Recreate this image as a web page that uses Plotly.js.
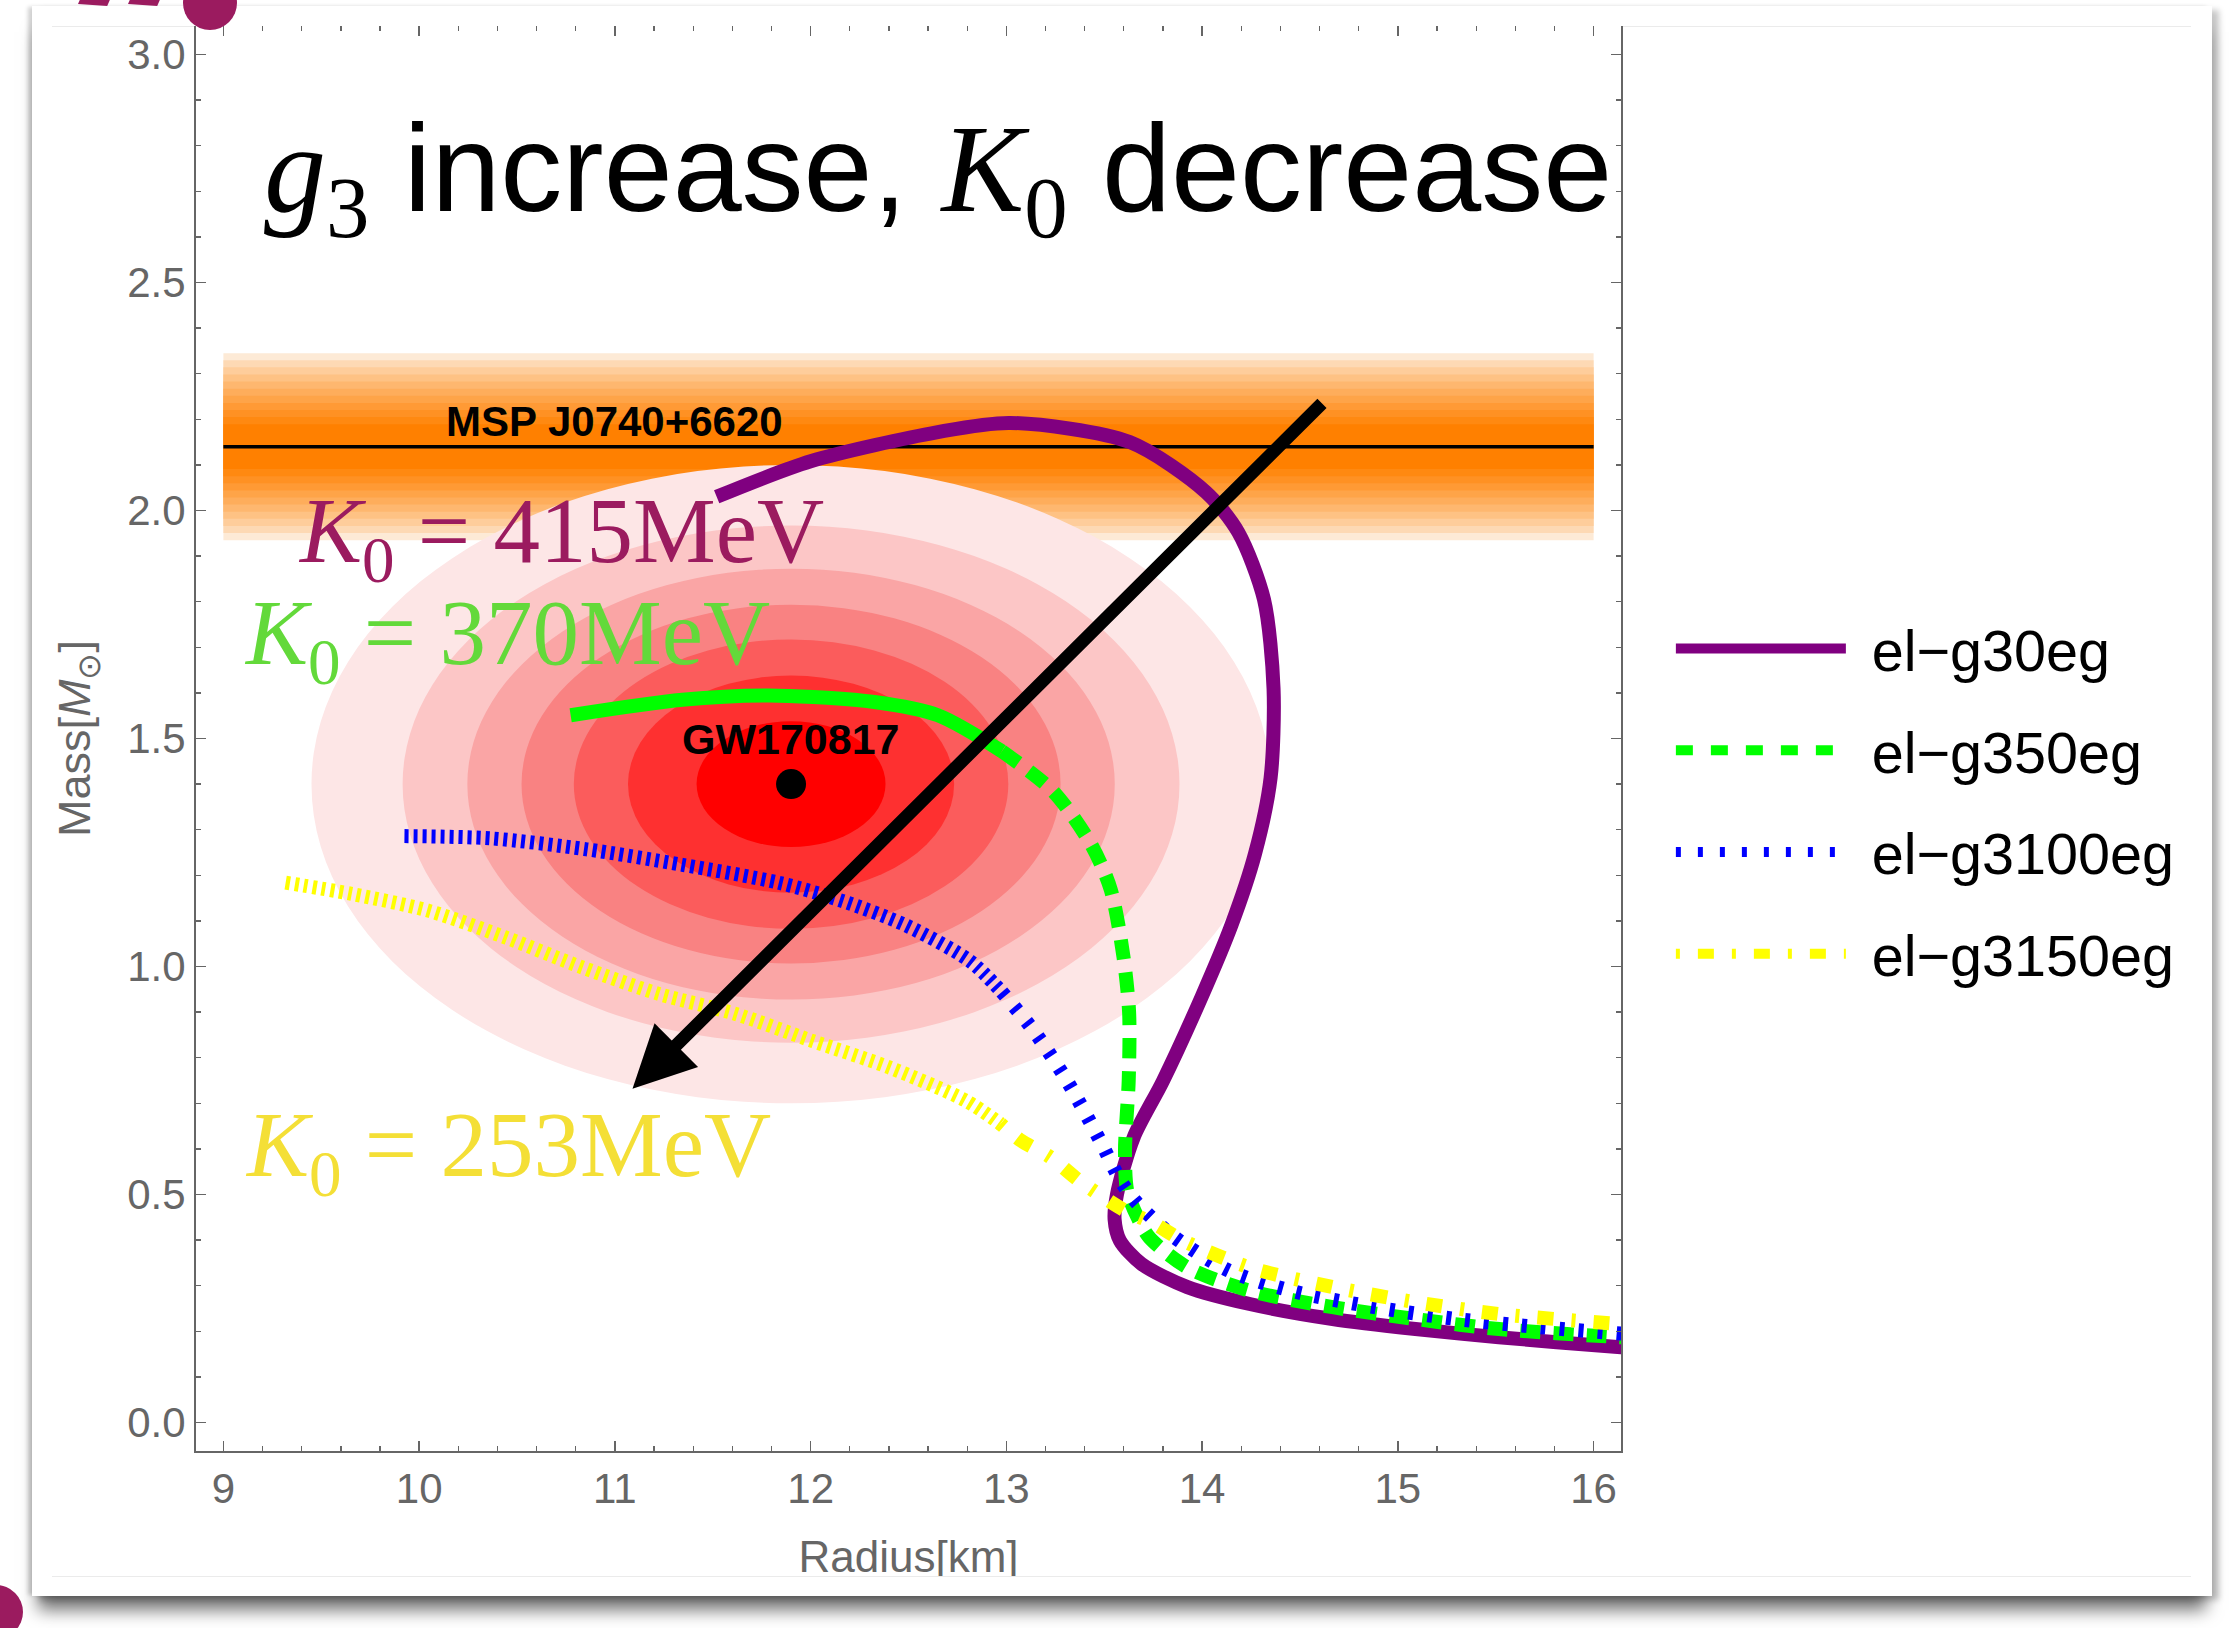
<!DOCTYPE html>
<html>
<head>
<meta charset="utf-8">
<script src="https://cdn.plot.ly/plotly-3.0.1.min.js"></script>
<style>
  html, body { margin: 0; padding: 0; background: #ffffff; width: 2229px; height: 1628px; overflow: hidden; }
  #card { position: absolute; left: 32px; top: 6px; width: 2180px; height: 1590px; background: #ffffff;
          box-shadow: 0 20px 16px -6px rgba(0,0,0,0.55), -5px 0 4px -1px rgba(0,0,0,0.18), 7px 4px 6px rgba(0,0,0,0.22); }
  #fig { position: absolute; left: 52px; top: 26px; width: 2139px; height: 1550px; overflow: hidden; }
  #plot { position: absolute; left: -52px; top: -26px; width: 2229px; height: 1628px; }
  .rule { position: absolute; left: 52px; width: 2139px; height: 1px; background: #ebebeb; }
  .deco { position: absolute; background: #9b1b5f; }
</style>
</head>
<body>
<div id="card"></div>
<div class="rule" style="top:26px"></div>
<div class="rule" style="top:1576px"></div>
<div id="fig"><div id="plot"></div></div>
<div class="deco" style="left:183px; top:-24px; width:54px; height:54px; border-radius:50%;"></div>
<div class="deco" style="left:-31px; top:1585px; width:54px; height:54px; border-radius:50%;"></div>
<div class="deco" style="left:80px; top:-6px; width:30px; height:11px; transform:skewX(-20deg) rotate(4deg);"></div>
<div class="deco" style="left:130px; top:-6px; width:30px; height:11px; transform:skewX(-20deg) rotate(4deg);"></div>
<script>
// ---- Mass-radius relations (radius in km, mass in solar masses) ----
const radiusG30  = [11.52, 12.00, 12.65, 13.02, 13.63, 14.02, 14.185, 14.316, 14.365, 14.35, 14.27, 14.15, 14.00, 13.80, 13.65, 13.565, 13.553, 13.58, 13.69, 13.925, 14.243, 14.667, 15.09, 15.516, 16.14, 16.3];
const massG30    = [2.030, 2.108, 2.172, 2.192, 2.150, 2.040, 1.952, 1.805, 1.609, 1.414, 1.247, 1.091, 0.936, 0.749, 0.625, 0.500, 0.445, 0.399, 0.348, 0.297, 0.260, 0.227, 0.205, 0.187, 0.165, 0.161];

const radiusG350 = [10.774, 11.345, 11.835, 12.325, 12.65, 12.977, 13.239, 13.434, 13.533, 13.598, 13.627, 13.625, 13.606, 13.617, 13.67, 13.73, 13.925, 14.243, 14.667, 15.09, 15.516, 16.14, 16.3];
const massG350   = [1.551, 1.585, 1.594, 1.580, 1.551, 1.472, 1.384, 1.267, 1.169, 1.022, 0.900, 0.750, 0.596, 0.509, 0.450, 0.406, 0.340, 0.289, 0.253, 0.227, 0.205, 0.187, 0.183];

const radiusG3100 = [9.925, 10.366, 10.856, 11.345, 11.835, 12.16, 12.488, 12.814, 12.977, 13.14, 13.309, 13.479, 13.584, 13.67, 13.86, 14.137, 14.454, 14.88, 15.30, 15.73, 16.14, 16.3];
const massG3100   = [1.286, 1.281, 1.257, 1.223, 1.184, 1.144, 1.090, 1.012, 0.944, 0.859, 0.750, 0.618, 0.530, 0.480, 0.406, 0.333, 0.289, 0.253, 0.227, 0.209, 0.195, 0.190];

const radiusG3150 = [9.318, 9.658, 10.05, 10.44, 10.833, 11.224, 11.617, 12.007, 12.40, 12.792, 12.97, 13.076, 13.224, 13.373, 13.521, 13.606, 13.755, 13.903, 14.243, 14.667, 15.09, 15.516, 16.14, 16.3];
const massG3150   = [1.184, 1.159, 1.122, 1.064, 0.998, 0.940, 0.896, 0.837, 0.779, 0.706, 0.655, 0.618, 0.582, 0.530, 0.487, 0.465, 0.436, 0.399, 0.340, 0.297, 0.264, 0.238, 0.216, 0.211];

const seriesNames  = ['el\u2212g30eg', 'el\u2212g350eg', 'el\u2212g3100eg', 'el\u2212g3150eg'];
const seriesColors = ['#800080', '#00ff00', '#0000ff', '#ffff00'];

// ---- GW170817 credible region ----
const gwCenter     = [11.9, 1.4];
const gwSemiAxes   = [2.45, 0.70];
const gwLevelScale = [1.0, 0.81, 0.675, 0.562, 0.453, 0.34, 0.197];
const gwLevelColors = ['#fde6e6', '#fcc6c6', '#faa5a5', '#f98282', '#fb5c5c', '#fe3030', '#ff0000'];

// ---- MSP J0740+6620 mass measurement ----
const mspMass        = 2.14;
const mspHalfWidth   = 0.205;
const mspRadiusRange = [9, 16];

// ---- Trend arrow (tail, head) ----
const trendTail = [14.62, 2.238];
const trendHead = [11.09, 0.732];

// ---- Incompressibility labels ----
const k0Labels = ['<i>K</i><sub>0</sub> = 415MeV', '<i>K</i><sub>0</sub> = 370MeV', '<i>K</i><sub>0</sub> = 253MeV'];
const k0Pos    = [[9.372, 1.941], [9.095, 1.718], [9.10, 0.594]];
const k0Colors = ['#9b1b5f', '#63d93a', '#f4df36'];

// ---- Axis ticks ----
const xTicks = [9, 10, 11, 12, 13, 14, 15, 16];
const yTicks = [0.0, 0.5, 1.0, 1.5, 2.0, 2.5, 3.0];

const SANS = 'Liberation Sans, Arial, sans-serif';
const SERIF = 'Liberation Serif, Times New Roman, serif';

// line styling for each series: index where the dash pattern changes
const curveStyles = [
  {split: null, dashA: 'solid',    dashB: 'solid'},
  {split: 5,    dashA: 'solid',    dashB: '20px,13px'},
  {split: 8,    dashA: '4px,5px',  dashB: '5px,14px'},
  {split: 10,   dashA: '4px,5px',  dashB: '4px,18px,16px,18px'}
];
const legendDash = ['solid', '17px,18px', '5px,17px', '4px,18px,16px,18px'];
const LW = 14;

const xs = [radiusG30, radiusG350, radiusG3100, radiusG3150];
const ys = [massG30, massG350, massG3100, massG3150];

const traces = [];
traces.push({
  x: [gwCenter[0]], y: [gwCenter[1]], mode: 'markers', type: 'scatter',
  marker: {color: '#000000', size: 30}, showlegend: false, hoverinfo: 'skip'
});
xs.forEach((xv, i) => {
  const st = curveStyles[i];
  const parts = st.split === null ? [[0, xv.length]] : [[0, st.split + 1], [st.split, xv.length]];
  parts.forEach((p, j) => {
    traces.push({
      x: xv.slice(p[0], p[1]), y: ys[i].slice(p[0], p[1]),
      mode: 'lines', type: 'scatter', showlegend: false, hoverinfo: 'skip',
      line: {color: seriesColors[i], width: LW, dash: j === 0 ? st.dashA : st.dashB, shape: 'spline', smoothing: 0.8}
    });
  });
});
// legend entries (gap before each name)
const nameGap = '<span style="font-size:75px">\u00a0</span>';
seriesNames.forEach((nm, i) => {
  traces.push({
    x: [null], y: [null], mode: 'lines', type: 'scatter', name: nameGap + nm, legendgroup: 'g' + i,
    line: {color: seriesColors[i], width: LW, dash: legendDash[i]}
  });
});

const shapes = [];
// MSP band: nested strips from pale edge to saturated core
const nBand = 11;
const pale = [253, 234, 214], deep = [255, 128, 0];
for (let k = 0; k < nBand; k++) {
  const t = k / (nBand - 1);
  const h = mspHalfWidth * (1 - t * 0.76);
  const c = pale.map((v, q) => Math.round(v + (deep[q] - v) * Math.pow(t, 0.8)));
  shapes.push({type: 'rect', xref: 'x', yref: 'y', layer: 'below',
    x0: mspRadiusRange[0], x1: mspRadiusRange[1], y0: mspMass - h, y1: mspMass + h,
    fillcolor: 'rgb(' + c.join(',') + ')', line: {width: 0}});
}
shapes.push({type: 'line', xref: 'x', yref: 'y', layer: 'below',
  x0: mspRadiusRange[0], x1: mspRadiusRange[1], y0: mspMass, y1: mspMass,
  line: {color: '#000000', width: 3.5}});
// GW170817 contours
gwLevelScale.forEach((s, i) => {
  shapes.push({type: 'circle', xref: 'x', yref: 'y', layer: 'below',
    x0: gwCenter[0] - gwSemiAxes[0] * s, x1: gwCenter[0] + gwSemiAxes[0] * s,
    y0: gwCenter[1] - gwSemiAxes[1] * s, y1: gwCenter[1] + gwSemiAxes[1] * s,
    fillcolor: gwLevelColors[i], line: {width: 0}});
});

const annotations = [];
annotations.push({
  xref: 'x', yref: 'y', x: 9.197, y: 2.73, xanchor: 'left', yanchor: 'middle', showarrow: false,
  text: '<span style="font-family:Liberation Serif"><i>g</i><sub>3</sub></span> increase, <span style="font-family:Liberation Serif"><i>K</i><sub>0</sub></span> decrease',
  font: {family: SANS, size: 124, color: '#000000'}
});
annotations.push({
  xref: 'x', yref: 'y', x: 11.0, y: 2.196, xanchor: 'center', yanchor: 'middle', showarrow: false,
  text: '<b>MSP J0740+6620</b>', font: {family: SANS, size: 42, color: '#000000'}
});
annotations.push({
  xref: 'x', yref: 'y', x: 11.9, y: 1.499, xanchor: 'center', yanchor: 'middle', showarrow: false,
  text: '<b>GW170817</b>', font: {family: SANS, size: 43, color: '#000000'}
});
k0Labels.forEach((t, i) => {
  annotations.push({
    xref: 'x', yref: 'y', x: k0Pos[i][0], y: k0Pos[i][1], xanchor: 'left', yanchor: 'middle', showarrow: false,
    text: t, font: {family: SERIF, size: 93, color: k0Colors[i]}
  });
});
annotations.push({
  xref: 'x', yref: 'y', axref: 'x', ayref: 'y',
  x: trendHead[0], y: trendHead[1], ax: trendTail[0], ay: trendTail[1],
  text: '', showarrow: true, arrowhead: 2, arrowsize: 0.95, arrowwidth: 13, arrowcolor: '#000000', standoff: 0
});

const axisCommon = {
  showgrid: false, zeroline: false, showline: true, linecolor: '#666666', linewidth: 2,
  mirror: 'ticks', ticks: 'inside', ticklen: 10, tickwidth: 1.6, tickcolor: '#666666',
  tickfont: {family: SANS, size: 42, color: '#666666'},
  minor: {ticks: 'inside', ticklen: 5, tickwidth: 1.3, tickcolor: '#666666', showgrid: false}
};

const layout = {
  width: 2229, height: 1628,
  margin: {l: 196, r: 608, t: 26, b: 177, pad: 0},
  paper_bgcolor: 'rgba(0,0,0,0)', plot_bgcolor: '#ffffff',
  showlegend: true,
  legend: {x: 1.035, xanchor: 'left', y: 0.594, yanchor: 'top', bgcolor: 'rgba(0,0,0,0)',
           font: {family: SANS, size: 57.5, color: '#000000'}, itemwidth: 170, tracegroupgap: 24},
  xaxis: Object.assign({}, axisCommon, {
    range: [8.86, 16.14], tickvals: xTicks, ticktext: xTicks.map(String),
    minor: Object.assign({}, axisCommon.minor, {dtick: 0.2, tick0: 9}),
    title: {text: 'Radius[km]', font: {family: SANS, size: 44, color: '#666666'}, standoff: 30}
  }),
  yaxis: Object.assign({}, axisCommon, {
    range: [-0.0624, 3.0624], tickvals: yTicks, ticktext: yTicks.map(v => v.toFixed(1)),
    minor: Object.assign({}, axisCommon.minor, {dtick: 0.1, tick0: 0}),
    title: {text: 'Mass[<i>M</i><sub>\u2299</sub>]', font: {family: SANS, size: 45, color: '#666666'}, standoff: 22}
  }),
  shapes: shapes, annotations: annotations
};

Plotly.newPlot('plot', traces, layout, {staticPlot: true, displayModeBar: false});
</script>
</body>
</html>
